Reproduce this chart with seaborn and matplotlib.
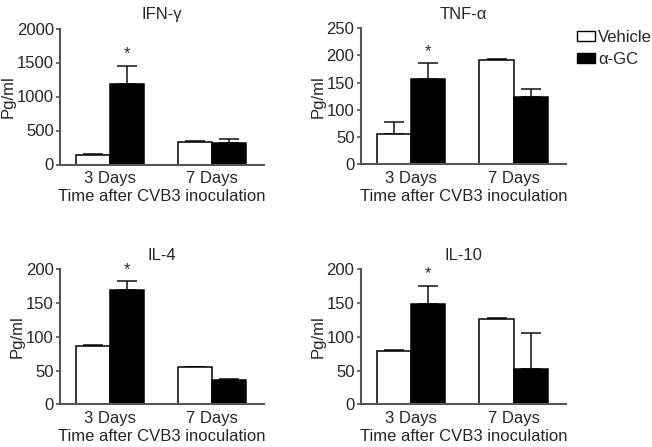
import matplotlib
matplotlib.use("Agg")
import matplotlib.pyplot as plt
import seaborn as sns
import pandas as pd
from matplotlib.patches import Patch

days = ["3 Days", "7 Days"]
groups = ["Vehicle", "α-GC"]

titles = ["IFN-γ", "TNF-α", "IL-4", "IL-10"]

ifn_vehicle = [140, 331]
ifn_vehicle_err = [10, 19]
ifn_agc = [1179, 312]
ifn_agc_err = [274, 58]

tnf_vehicle = [56, 192]
tnf_vehicle_err = [22, 2]
tnf_agc = [157, 123]
tnf_agc_err = [29, 15]

il4_vehicle = [87, 55]
il4_vehicle_err = [1, 0]
il4_agc = [169, 36]
il4_agc_err = [13, 1.5]

il10_vehicle = [78.5, 126]
il10_vehicle_err = [2, 1.5]
il10_agc = [148, 53]
il10_agc_err = [28, 52]

y_max = [2000, 250, 200, 200]
y_step = [500, 50, 50, 50]

panels = [
    (ifn_vehicle, ifn_vehicle_err, ifn_agc, ifn_agc_err),
    (tnf_vehicle, tnf_vehicle_err, tnf_agc, tnf_agc_err),
    (il4_vehicle, il4_vehicle_err, il4_agc, il4_agc_err),
    (il10_vehicle, il10_vehicle_err, il10_agc, il10_agc_err),
]

sns.set_style("ticks")
plt.rcParams["font.family"] = ["Liberation Sans", "DejaVu Sans"]
FS = 12
plt.rcParams["font.size"] = FS

W, H = 652, 447
fig = plt.figure(figsize=(W / 100, H / 100), dpi=100)

# axes rectangles in pixels: left, right, top(y-max), bottom(y=0)
rects = [
    (60, 264, 28.5, 164.5),
    (360.7, 566, 28.3, 164.3),
    (60, 264, 269.3, 404.3),
    (360.7, 566, 269.3, 404.3),
]

spine_color = "#555555"
palette = {"Vehicle": "white", "α-GC": "black"}

for i, (vals, rect) in enumerate(zip(panels, rects)):
    veh, veh_err, agc, agc_err = vals
    l, r, t, b = rect
    ax = fig.add_axes([l / W, (H - b) / H, (r - l) / W, (b - t) / H])
    df = pd.DataFrame({
        "day": days + days,
        "group": [groups[0]] * 2 + [groups[1]] * 2,
        "value": veh + agc,
    })
    sns.barplot(data=df, x="day", y="value", hue="group", order=days,
                hue_order=groups, palette=palette, edgecolor="black",
                linewidth=1.1, errorbar=None, width=0.667, ax=ax,
                legend=False, zorder=2)
    bar_conts = list(ax.containers)
    errs = [veh_err, agc_err]
    means = [veh, agc]
    centers = []
    for k, cont in enumerate(bar_conts):
        xs = [p.get_x() + p.get_width() / 2 for p in cont.patches]
        centers.append(xs)
        ax.errorbar(xs, means[k], yerr=[[0] * len(xs), errs[k]], fmt="none",
                    ecolor="#111111", elinewidth=1.1, capsize=7.5,
                    capthick=1.1, zorder=1)
    # significance asterisk on 3 Days α-GC
    xc = centers[1][0]
    ax.annotate("*", xy=(xc, agc[0] + agc_err[0]), xytext=(0, 3),
                textcoords="offset points", ha="center", va="bottom",
                fontsize=FS)
    ax.set_xlim(-0.49, 1.51)
    ax.set_ylim(0, y_max[i])
    ax.set_yticks(range(0, y_max[i] + 1, y_step[i]))
    ax.set_title(titles[i], fontsize=FS, pad=7)
    ax.set_xlabel("Time after CVB3 inoculation", fontsize=FS, labelpad=2)
    ax.set_ylabel("Pg/ml", fontsize=FS, labelpad=1)
    for s in ["top", "right"]:
        ax.spines[s].set_visible(False)
    for s in ["left", "bottom"]:
        ax.spines[s].set_color(spine_color)
        ax.spines[s].set_linewidth(1.5)
    ax.tick_params(axis="x", length=0, pad=5, labelsize=FS)
    ax.tick_params(axis="y", length=3, width=1.2, color=spine_color,
                   pad=1.5, labelsize=FS)
    ax.set_facecolor("white")

handles = [Patch(facecolor=palette[g], edgecolor="black", linewidth=1.0)
           for g in groups]
fig.legend(handles, groups, loc="upper left",
           bbox_to_anchor=(577 / W, (H - 30) / H), frameon=False,
           handlelength=1.05, handleheight=0.6, handletextpad=0.2,
           labelspacing=0.42, fontsize=FS, borderpad=0, borderaxespad=0)

fig.savefig("out.png", dpi=100, facecolor="white")
